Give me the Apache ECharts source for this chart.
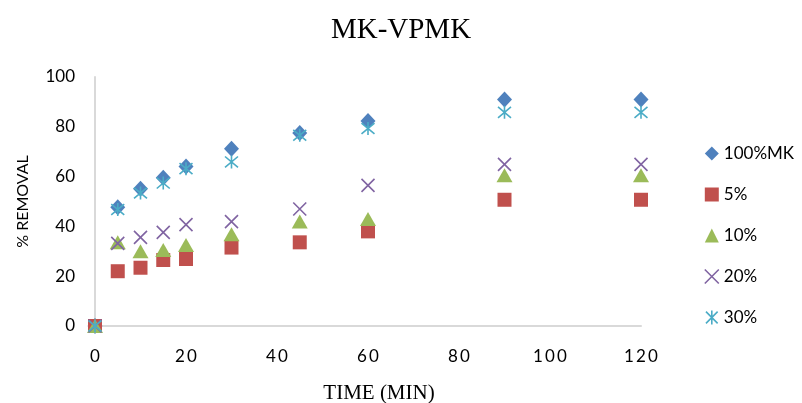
<!DOCTYPE html>
<html><head><meta charset="utf-8">
<script src="https://cdn.jsdelivr.net/npm/echarts@6/dist/echarts.min.js"></script>
<style>html,body{margin:0;padding:0;background:#fff}#c{width:802px;height:403px}</style>
</head><body><div id="c"></div>
<script>
const times = [0, 5, 10, 15, 20, 30, 45, 60, 90, 120];
const seriesNames = ['100%MK', '5%', '10%', '20%', '30%'];
const mk100 = [0, 47.7, 55.1, 59.5, 64.1, 71.2, 77.5, 82.3, 91.0, 91.0];
const p5 = [0, 22.0, 23.4, 26.5, 26.9, 31.5, 33.6, 38.0, 50.7, 50.7];
const p10 = [0, 33.6, 30.0, 30.5, 32.5, 36.8, 42.0, 43.0, 60.5, 60.5];
const p20 = [0, 33.2, 35.6, 37.6, 40.7, 41.9, 47.0, 56.5, 64.9, 64.9];
const p30 = [0, 46.8, 53.4, 57.4, 63.2, 65.9, 76.6, 79.3, 85.8, 85.8];
const xTicks = [0, 20, 40, 60, 80, 100, 120];
const yTicks = [0, 20, 40, 60, 80, 100];

const values = [mk100, p5, p10, p20, p30];
const colors = ['#4F81BD', '#C0504D', '#9BBB59', '#8064A2', '#4BACC6'];
const symbols = ['diamond', 'rect', 'triangle', 'path://M0,0L10,10M10,0L0,10', 'path://M0,0L10,10M10,0L0,10M5,-1L5,11'];
const sizes = [[15, 16], 14, [16, 14], 13, 13];
const stroked = [false, false, false, true, true];

const styleFor = i => stroked[i]
  ? {color: 'rgba(0,0,0,0)', borderColor: colors[i], borderWidth: 1.6, opacity: 1}
  : {color: colors[i], borderWidth: 0, opacity: 1};

const series = seriesNames.map((n, i) => ({
  name: n, type: 'scatter',
  data: times.map((t, j) => [t, values[i][j]]),
  symbol: symbols[i], symbolSize: sizes[i],
  itemStyle: styleFor(i),
  emphasis: {disabled: true}
}));

const chart = echarts.init(document.getElementById('c'));
chart.setOption({
  animation: false,
  backgroundColor: '#fff',
  title: {text: 'MK-VPMK', left: 'center', top: 11,
    textStyle: {fontFamily: 'Liberation Serif', fontWeight: 'normal', fontSize: 29, color: '#000'}},
  grid: {left: 95, right: 161, top: 77, bottom: 77, containLabel: false, outerBoundsMode: 'none'},
  legend: {
    orient: 'vertical', left: 699, top: 140, itemGap: 24, itemWidth: 14, itemHeight: 14,
    textStyle: {fontFamily: 'Lato', fontSize: 17, color: '#000'},
    data: seriesNames.map((n, i) => ({name: n, icon: symbols[i], itemStyle: styleFor(i)}))
  },
  xAxis: {
    type: 'value', min: 0, max: 120, interval: 20,
    name: 'TIME (MIN)', nameLocation: 'middle', nameGap: 57,
    nameTextStyle: {fontFamily: 'Liberation Serif', fontSize: 21, color: '#000', padding: [0, 0, 0, 22]},
    axisLine: {show: true, onZero: false, lineStyle: {color: '#d9d9d9', width: 2}},
    axisTick: {show: false}, splitLine: {show: false},
    axisLabel: {margin: 22, fontFamily: 'Lato', fontSize: 17, color: '#000',
      formatter: v => xTicks.includes(v) ? String(v).split('').join('\u2009') : ''}
  },
  yAxis: {
    type: 'value', min: 0, max: 100, interval: 20,
    name: '% REMOVAL', nameLocation: 'middle', nameGap: 64, nameRotate: 90,
    nameTextStyle: {fontFamily: 'Lato', fontSize: 16, color: '#000'},
    axisLine: {show: true, lineStyle: {color: '#d9d9d9', width: 2}},
    axisTick: {show: false}, splitLine: {show: false},
    axisLabel: {margin: 20, fontFamily: 'Lato', fontSize: 17, color: '#000',
      formatter: v => yTicks.includes(v) ? String(v) : ''}
  },
  series: series
});
</script></body></html>
